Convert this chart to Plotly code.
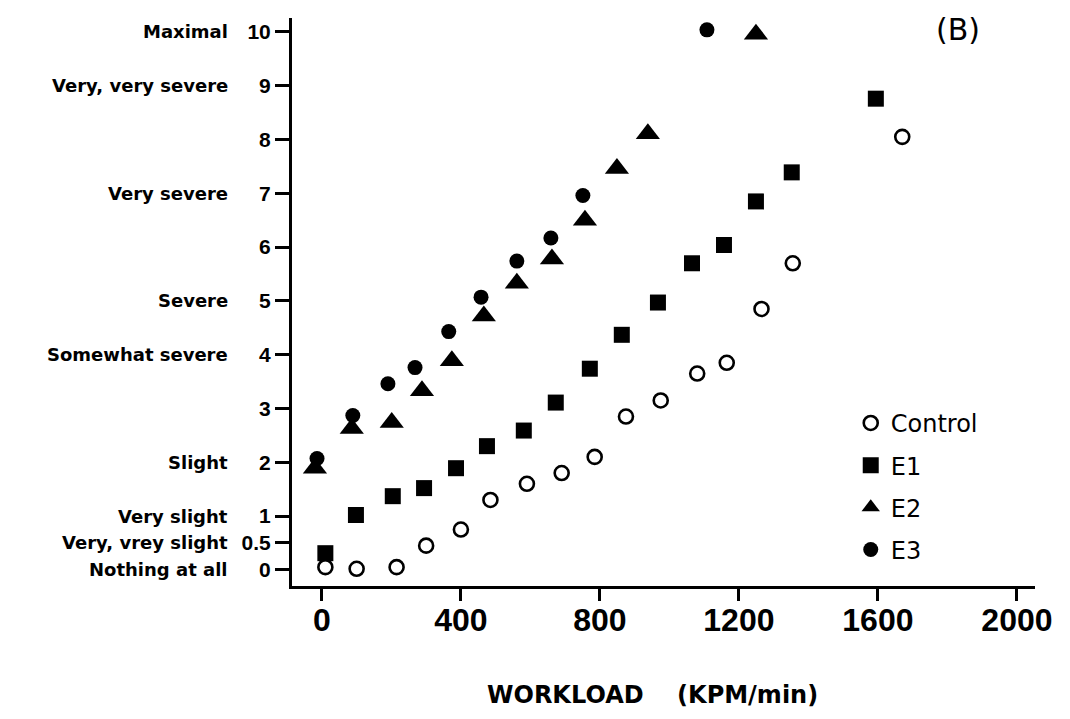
import plotly.graph_objects as go

# Perceived exertion rating vs. workload for four groups
control_x = [10, 100, 215, 300, 400, 485, 590, 690, 785, 875, 975, 1080, 1165, 1265, 1355, 1670]
control_y = [0.05, 0.02, 0.05, 0.45, 0.75, 1.3, 1.6, 1.8, 2.1, 2.85, 3.15, 3.65, 3.85, 4.85, 5.7, 8.05]

e1_x = [10, 98, 204, 294, 386, 475, 581, 673, 771, 863, 967, 1065, 1157, 1249, 1352, 1594]
e1_y = [0.31, 1.02, 1.37, 1.52, 1.89, 2.3, 2.59, 3.11, 3.74, 4.37, 4.97, 5.7, 6.04, 6.85, 7.39, 8.76]

e2_x = [-20, 86, 201, 288, 374, 466, 561, 662, 757, 849, 938, 1249]
e2_y = [1.89, 2.63, 2.74, 3.33, 3.89, 4.72, 5.33, 5.78, 6.5, 7.46, 8.11, 9.96]

e3_x = [-14, 89, 190, 268, 365, 458, 561, 659, 751, 1108]
e3_y = [2.07, 2.87, 3.46, 3.76, 4.43, 5.07, 5.74, 6.17, 6.96, 10.04]

y_tick_vals = [0, 0.5, 1, 2, 3, 4, 5, 6, 7, 8, 9, 10]
y_tick_text = ["0", "0.5", "1", "2", "3", "4", "5", "6", "7", "8", "9", "10"]

x_tick_vals = [0, 400, 800, 1200, 1600, 2000]

# Verbal anchors of the rating scale
scale_vals = [10, 9, 7, 5, 4, 2, 1, 0.5, 0]
scale_text = ["Maximal", "Very, very severe", "Very severe", "Severe",
              "Somewhat severe", "Slight", "Very slight", "Very, vrey slight",
              "Nothing at all"]

fig = go.Figure()

fig.add_trace(go.Scatter(
    x=control_x, y=control_y, mode="markers", name="Control", legendgroup="g1",
    marker=dict(symbol="circle-open", size=14, color="black", line=dict(width=2.6)),
))
fig.add_trace(go.Scatter(
    x=e1_x, y=e1_y, mode="markers", name="E1", legendgroup="g2",
    marker=dict(symbol="square", size=16, color="black"),
))
fig.add_trace(go.Scatter(
    x=e2_x, y=e2_y, mode="markers", name="E2", legendgroup="g3",
    marker=dict(symbol="triangle-up", size=21, color="black"),
))
fig.add_trace(go.Scatter(
    x=e3_x, y=e3_y, mode="markers", name="E3", legendgroup="g4",
    marker=dict(symbol="circle", size=15, color="black"),
))

label_font = dict(family="DejaVu Sans", size=18, color="black", weight="bold")

annotations = [
    dict(x=0, xref="paper", xanchor="right", xshift=-62,
         y=v, yref="y", yanchor="middle", text=t, showarrow=False, font=label_font)
    for v, t in zip(scale_vals, scale_text)
]

# Panel tag
annotations.append(dict(
    x=0.896, xref="paper", y=10.05, yref="y", text="(B)", showarrow=False,
    xanchor="center", yanchor="middle",
    font=dict(family="DejaVu Sans", size=30, color="black"),
))

# Horizontal axis title
annotations.append(dict(
    x=0.485, xref="paper", y=-0.192, yref="paper",
    text="WORKLOAD\u00a0\u00a0\u00a0\u00a0(KPM/min)", showarrow=False,
    xanchor="center", yanchor="middle",
    font=dict(family="DejaVu Sans", size=24, color="black", weight="bold"),
))

fig.update_layout(
    width=1070, height=719,
    margin=dict(l=292, r=35, t=18, b=133),
    paper_bgcolor="white", plot_bgcolor="white",
    showlegend=True,
    legend=dict(
        x=0.752, y=0.326, xanchor="left", yanchor="top",
        bgcolor="rgba(0,0,0,0)", tracegroupgap=8,
        font=dict(family="DejaVu Sans", size=24, color="black"),
    ),
    annotations=annotations,
)

fig.update_xaxes(
    range=[-86, 2052], tickvals=x_tick_vals,
    showline=True, linecolor="black", linewidth=3,
    ticks="outside", ticklen=12, tickwidth=2.5, tickcolor="black",
    ticklabelstandoff=-8,
    showgrid=False, zeroline=False,
    tickfont=dict(family="Liberation Sans", size=32, color="black", weight="bold"),
)
fig.update_yaxes(
    range=[-0.30, 10.26], tickvals=y_tick_vals, ticktext=y_tick_text,
    showline=True, linecolor="black", linewidth=3,
    ticks="outside", ticklen=14, tickwidth=2.5, tickcolor="black",
    showgrid=False, zeroline=False,
    tickfont=dict(family="Liberation Sans", size=21, color="black", weight="bold"),
)

fig.write_html("out.html")
